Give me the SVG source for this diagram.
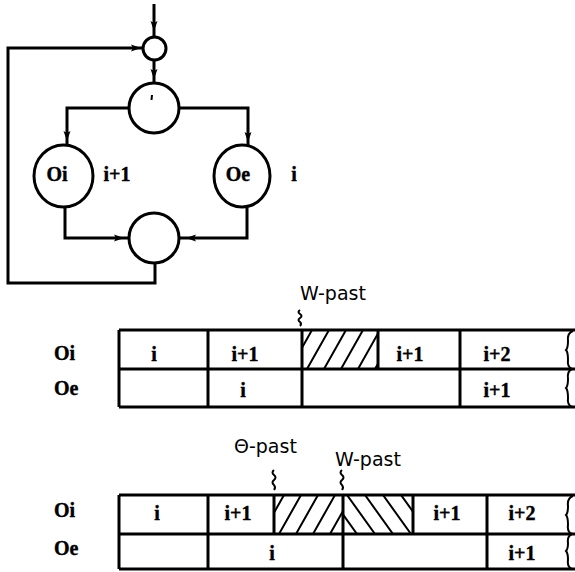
<svg xmlns="http://www.w3.org/2000/svg" xmlns:xlink="http://www.w3.org/1999/xlink" width="575" height="572" viewBox="0 0 575 572">
  <style>
    .ln { fill: none; stroke: #000; stroke-width: 3; stroke-linejoin: miter; }
    .node { fill: #fff; stroke: #000; stroke-width: 3; }
    .grid { fill: none; stroke: #000; stroke-width: 3; }
    .hatch { fill: none; stroke: #000; stroke-width: 2; }
    .lbl { font-family: "Liberation Serif", "Times New Roman", serif; font-weight: bold; font-size: 20px; fill: #000; stroke: #000; stroke-width: 0.4; }
    .mark { font-family: "DejaVu Sans", "Liberation Sans", sans-serif; font-size: 19px; fill: #000; }
    .ah { fill: #000; stroke: none; }
  </style>
  <defs>
    <!-- arrowhead pointing +x, tip at origin -->
    <path id="ah" d="M0,0 L-10,-3.5 L-8,0 L-10,3.5 Z"/>
    <clipPath id="c1"><rect x="302" y="330" width="76" height="39"/></clipPath>
    <clipPath id="c2"><rect x="274" y="495" width="69" height="39"/></clipPath>
    <clipPath id="c3"><rect x="343" y="495" width="70" height="39"/></clipPath>
  </defs>
  <rect width="575" height="572" fill="#fff"/>

  <!-- flow graph connectors -->
  <g id="connectors">
    <path class="ln" d="M154,4 V37"/>
    <path class="ln" d="M154,60 V83"/>
    <path class="ln" d="M129,108 H67 V145"/>
    <path class="ln" d="M179,108 H248 V146"/>
    <path class="ln" d="M65,206 V238 H129"/>
    <path class="ln" d="M247,206 V238 H179"/>
    <path class="ln" d="M155,263 V283 H8 V48 H143"/>
    <use class="ah" xlink:href="#ah" transform="translate(154,31) rotate(90)"/>
    <use class="ah" xlink:href="#ah" transform="translate(154,79) rotate(90)"/>
    <use class="ah" xlink:href="#ah" transform="translate(141,48)"/>
    <use class="ah" xlink:href="#ah" transform="translate(67,141) rotate(90)"/>
    <use class="ah" xlink:href="#ah" transform="translate(248,142) rotate(90)"/>
    <use class="ah" xlink:href="#ah" transform="translate(124,238)"/>
    <use class="ah" xlink:href="#ah" transform="translate(186,238) rotate(180)"/>
  </g>

  <g id="merge">
    <circle class="node" cx="154.5" cy="48.5" r="11.5"/>
  </g>
  <g id="split">
    <circle class="node" cx="154" cy="108" r="25"/>
    <path d="M152,95 L151.5,100" stroke="#000" stroke-width="2"/>
  </g>
  <g id="Oi">
    <ellipse class="node" cx="63.5" cy="176" rx="29.5" ry="31"/>
    <text class="lbl" x="57" y="181" text-anchor="middle">Oi</text>
    <text class="lbl" x="117" y="181" text-anchor="middle">i+1</text>
  </g>
  <g id="Oe">
    <ellipse class="node" cx="242" cy="176" rx="28" ry="31"/>
    <text class="lbl" x="238" y="181" text-anchor="middle">Oe</text>
    <text class="lbl" x="294" y="181" text-anchor="middle">i</text>
  </g>
  <g id="join">
    <circle class="node" cx="154" cy="238" r="25"/>
  </g>

  <!-- timeline 1 -->
  <g id="timeline1">
    <text class="mark" x="300" y="300">W-past</text>
    <path class="hatch" d="M300,310 q-3,2 0,4 q3,2 0,4 q-3,2 0,4 q2,2 0,4"/>
    <text class="lbl" x="54" y="360">Oi</text>
    <text class="lbl" x="54" y="395">Oe</text>
    <g clip-path="url(#c1)">
      <path class="hatch" d="M290,369 L312,330 M307,369 L329,330 M324,369 L346,330 M341,369 L363,330 M358,369 L380,330 M375,369 L397,330"/>
    </g>
    <path class="grid" d="M119,330 H575 M119,369 H575 M119,407 H575 M119,330 V407 M208,330 V407 M302,330 V407 M378,330 V369 M460,330 V407"/>
    <path class="hatch" d="M573,331 Q567,333 568,341 Q568,348 566,350 Q568,352 568,360 Q567,367 572,369 Q567,371 568,379 Q568,386 566,388 Q568,390 568,398 Q567,405 572,407"/>
    <text class="lbl" x="154" y="361" text-anchor="middle">i</text>
    <text class="lbl" x="245" y="361" text-anchor="middle">i+1</text>
    <text class="lbl" x="410" y="361" text-anchor="middle">i+1</text>
    <text class="lbl" x="497" y="361" text-anchor="middle">i+2</text>
    <text class="lbl" x="243" y="397" text-anchor="middle">i</text>
    <text class="lbl" x="497" y="397" text-anchor="middle">i+1</text>
  </g>

  <!-- timeline 2 -->
  <g id="timeline2">
    <text class="mark" x="234" y="453" font-size="20">Θ-past</text>
    <text class="mark" x="335" y="466">W-past</text>
    <path class="hatch" d="M274,470 q-3,2.5 0,5 q3,2.5 0,5 q-3,2.5 0,5 q2,2.5 0,5"/>
    <path class="hatch" d="M342,470 q-3,2.5 0,5 q3,2.5 0,5 q-3,2.5 0,5 q2,2.5 0,5"/>
    <text class="lbl" x="54" y="517">Oi</text>
    <text class="lbl" x="54" y="555">Oe</text>
    <g clip-path="url(#c2)">
      <path class="hatch" d="M262,534 L284,495 M279,534 L301,495 M296,534 L318,495 M313,534 L335,495 M330,534 L352,495"/>
    </g>
    <g clip-path="url(#c3)">
      <path class="hatch" d="M329,495 L357,534 M347,495 L375,534 M365,495 L393,534 M383,495 L411,534 M401,495 L429,534"/>
    </g>
    <path class="grid" d="M119,495 H575 M119,534 H575 M119,569 H575 M119,495 V569 M208,495 V569 M274,495 V534 M343,495 V569 M413,495 V534 M487,495 V569"/>
    <path class="hatch" d="M573,496 Q567,498 568,506 Q568,513 566,515 Q568,517 568,525 Q567,532 572,534 Q567,536 568,543 Q568,549 566,551 Q568,553 568,560 Q567,567 572,569"/>
    <text class="lbl" x="157" y="520" text-anchor="middle">i</text>
    <text class="lbl" x="238" y="520" text-anchor="middle">i+1</text>
    <text class="lbl" x="447" y="520" text-anchor="middle">i+1</text>
    <text class="lbl" x="522" y="520" text-anchor="middle">i+2</text>
    <text class="lbl" x="272" y="560" text-anchor="middle">i</text>
    <text class="lbl" x="522" y="560" text-anchor="middle">i+1</text>
  </g>
</svg>
